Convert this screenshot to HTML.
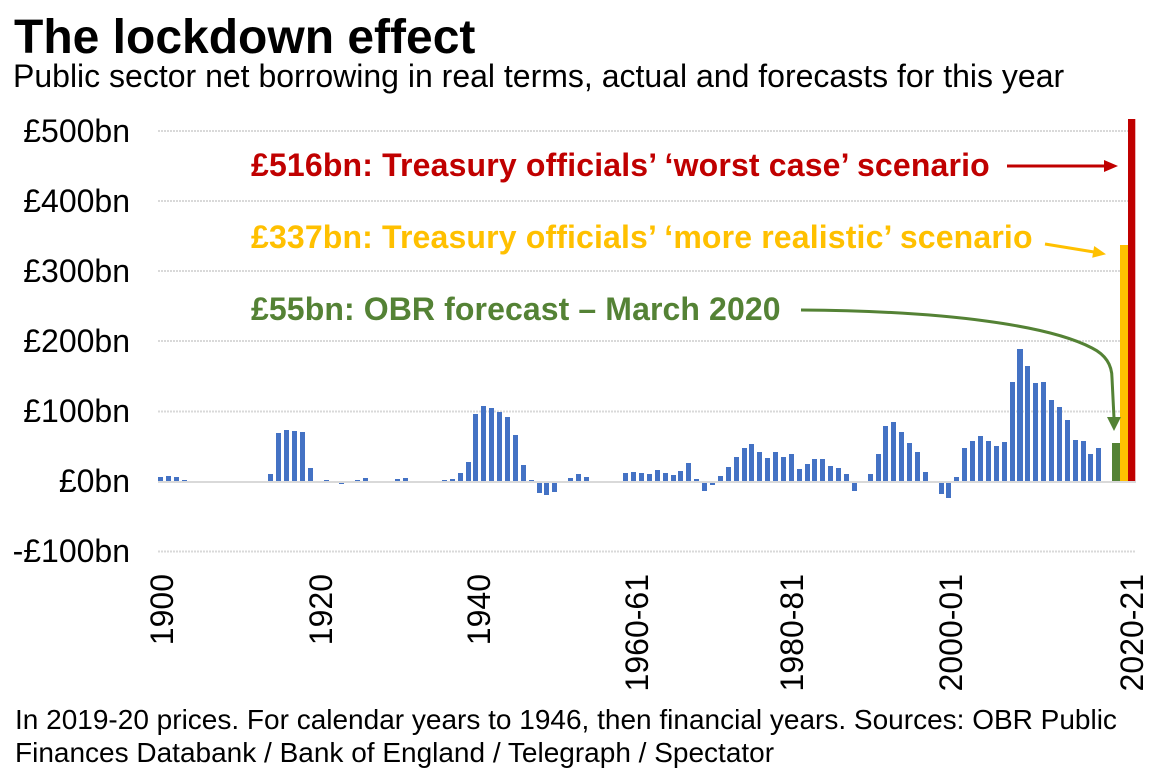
<!DOCTYPE html>
<html>
<head>
<meta charset="utf-8">
<style>
  html,body{margin:0;padding:0;background:#fff;}
  svg{display:block;}
  text{font-family:"Liberation Sans",Arial,sans-serif;}
</style>
</head>
<body>
<svg width="1170" height="772" viewBox="0 0 1170 772" xmlns="http://www.w3.org/2000/svg">
  <rect x="0" y="0" width="1170" height="772" fill="#fff"/>

  <!-- Title & subtitle -->
  <text x="14" y="53" font-size="48" font-weight="bold" fill="#000">The lockdown effect</text>
  <text x="13" y="87" font-size="32" fill="#000">Public sector net borrowing in real terms, actual and forecasts for this year</text>

  <!-- Gridlines -->
  <g stroke="#d9d9d9" stroke-width="2" stroke-dasharray="2 1">
    <line x1="158" y1="131" x2="1136" y2="131"/>
    <line x1="158" y1="201" x2="1136" y2="201"/>
    <line x1="158" y1="271" x2="1136" y2="271"/>
    <line x1="158" y1="341" x2="1136" y2="341"/>
    <line x1="158" y1="411.5" x2="1136" y2="411.5"/>
    <line x1="158" y1="551.5" x2="1136" y2="551.5"/>
  </g>

  <!-- Y axis labels -->
  <g font-size="32" fill="#000" text-anchor="end">
    <text x="130" y="142">£500bn</text>
    <text x="130" y="212">£400bn</text>
    <text x="130" y="282">£300bn</text>
    <text x="130" y="352">£200bn</text>
    <text x="130" y="422">£100bn</text>
    <text x="130" y="492">£0bn</text>
    <text x="130" y="562">-£100bn</text>
  </g>

  <!-- Blue bars -->
  <g fill="#4472C4">
    <rect x="158" y="477" width="5" height="4"/>
    <rect x="166" y="476" width="5" height="5"/>
    <rect x="174" y="477" width="5" height="4"/>
    <rect x="182" y="480" width="5" height="1"/>
    <rect x="268" y="474" width="5" height="7"/>
    <rect x="276" y="433" width="5" height="48"/>
    <rect x="284" y="430" width="5" height="51"/>
    <rect x="292" y="431" width="5" height="50"/>
    <rect x="300" y="432" width="5" height="49"/>
    <rect x="308" y="468" width="5" height="13"/>
    <rect x="324" y="480" width="5" height="1"/>
    <rect x="339" y="481" width="5" height="3"/>
    <rect x="355" y="480" width="5" height="1"/>
    <rect x="363" y="478" width="5" height="3"/>
    <rect x="395" y="479" width="5" height="2"/>
    <rect x="403" y="478" width="5" height="3"/>
    <rect x="442" y="480" width="5" height="1"/>
    <rect x="450" y="479" width="5" height="2"/>
    <rect x="458" y="473" width="5" height="8"/>
    <rect x="466" y="462" width="5" height="19"/>
    <rect x="473" y="414" width="5" height="67"/>
    <rect x="481" y="406" width="5" height="75"/>
    <rect x="489" y="408" width="5" height="73"/>
    <rect x="497" y="412" width="5" height="69"/>
    <rect x="505" y="417" width="5" height="64"/>
    <rect x="513" y="435" width="5" height="46"/>
    <rect x="521" y="465" width="5" height="16"/>
    <rect x="529" y="480" width="5" height="1"/>
    <rect x="537" y="481" width="5" height="12"/>
    <rect x="544" y="481" width="5" height="14"/>
    <rect x="552" y="481" width="5" height="11"/>
    <rect x="568" y="478" width="5" height="3"/>
    <rect x="576" y="474" width="5" height="7"/>
    <rect x="584" y="477" width="5" height="4"/>
    <rect x="623" y="473" width="5" height="8"/>
    <rect x="631" y="472" width="5" height="9"/>
    <rect x="639" y="473" width="5" height="8"/>
    <rect x="647" y="474" width="5" height="7"/>
    <rect x="655" y="470" width="5" height="11"/>
    <rect x="663" y="473" width="5" height="8"/>
    <rect x="671" y="475" width="5" height="6"/>
    <rect x="678" y="471" width="5" height="10"/>
    <rect x="686" y="463" width="5" height="18"/>
    <rect x="694" y="479" width="5" height="2"/>
    <rect x="702" y="481" width="5" height="10"/>
    <rect x="710" y="481" width="5" height="4"/>
    <rect x="718" y="476" width="5" height="5"/>
    <rect x="726" y="467" width="5" height="14"/>
    <rect x="734" y="457" width="5" height="24"/>
    <rect x="742" y="448" width="5" height="33"/>
    <rect x="749" y="444" width="5" height="37"/>
    <rect x="757" y="452" width="5" height="29"/>
    <rect x="765" y="458" width="5" height="23"/>
    <rect x="773" y="452" width="5" height="29"/>
    <rect x="781" y="457" width="5" height="24"/>
    <rect x="789" y="454" width="5" height="27"/>
    <rect x="797" y="469" width="5" height="12"/>
    <rect x="805" y="464" width="5" height="17"/>
    <rect x="812" y="459" width="5" height="22"/>
    <rect x="820" y="459" width="5" height="22"/>
    <rect x="828" y="466" width="5" height="15"/>
    <rect x="836" y="468" width="5" height="13"/>
    <rect x="844" y="474" width="5" height="7"/>
    <rect x="852" y="481" width="5" height="10"/>
    <rect x="868" y="474" width="5" height="7"/>
    <rect x="876" y="454" width="5" height="27"/>
    <rect x="883" y="426" width="5" height="55"/>
    <rect x="891" y="422" width="5" height="59"/>
    <rect x="899" y="432" width="5" height="49"/>
    <rect x="907" y="443" width="5" height="38"/>
    <rect x="915" y="452" width="5" height="29"/>
    <rect x="923" y="472" width="5" height="9"/>
    <rect x="939" y="481" width="5" height="13"/>
    <rect x="946" y="481" width="5" height="17"/>
    <rect x="954" y="477" width="5" height="4"/>
    <rect x="962" y="448" width="5" height="33"/>
    <rect x="970" y="441" width="5" height="40"/>
    <rect x="978" y="436" width="5" height="45"/>
    <rect x="986" y="441" width="5" height="40"/>
    <rect x="994" y="446" width="5" height="35"/>
    <rect x="1002" y="442" width="5" height="39"/>
    <rect x="1010" y="382" width="5" height="99"/>
    <rect x="1017" y="349" width="6" height="132"/>
    <rect x="1025" y="366" width="5" height="115"/>
    <rect x="1033" y="383" width="5" height="98"/>
    <rect x="1041" y="382" width="5" height="99"/>
    <rect x="1049" y="400" width="5" height="81"/>
    <rect x="1057" y="407" width="5" height="74"/>
    <rect x="1065" y="420" width="5" height="61"/>
    <rect x="1073" y="440" width="5" height="41"/>
    <rect x="1081" y="441" width="5" height="40"/>
    <rect x="1088" y="454" width="5" height="27"/>
    <rect x="1096" y="448" width="5" height="33"/>
  </g>

  <!-- Forecast bars -->
  <rect x="1112" y="443" width="8" height="38" fill="#548235"/>
  <rect x="1120" y="245" width="8" height="236" fill="#FFC000"/>
  <rect x="1128" y="119" width="7.3" height="362" fill="#C00000"/>

  <!-- Zero axis line -->
  <rect x="158" y="481" width="978" height="2" fill="#d9d9d9"/>

  <!-- X axis labels (rotated) -->
  <g font-size="32" fill="#000" text-anchor="end">
    <text transform="translate(173,574) rotate(-90)">1900</text>
    <text transform="translate(332,574) rotate(-90)">1920</text>
    <text transform="translate(490,574) rotate(-90)">1940</text>
    <text transform="translate(648,574) rotate(-90)">1960-61</text>
    <text transform="translate(803,574) rotate(-90)">1980-81</text>
    <text transform="translate(962,574) rotate(-90)">2000-01</text>
    <text transform="translate(1143,574) rotate(-90)">2020-21</text>
  </g>

  <!-- Annotations -->
  <text x="251" y="176" font-size="32" font-weight="bold" letter-spacing="0.16" fill="#C00000">£516bn: Treasury officials’ ‘worst case’ scenario</text>
  <text x="251" y="248" font-size="32" font-weight="bold" letter-spacing="0.15" fill="#FFC000">£337bn: Treasury officials’ ‘more realistic’ scenario</text>
  <text x="251" y="320" font-size="32" font-weight="bold" letter-spacing="0.1" fill="#548235">£55bn: OBR forecast – March 2020</text>

  <!-- Red arrow -->
  <line x1="1007" y1="166" x2="1106" y2="166" stroke="#C00000" stroke-width="3"/>
  <polygon points="1104,160 1118,166 1104,172" fill="#C00000"/>

  <!-- Yellow arrow -->
  <line x1="1045" y1="244" x2="1094" y2="252" stroke="#FFC000" stroke-width="3"/>
  <polygon points="1092.2,257.8 1106,254.2 1094.2,246" fill="#FFC000"/>

  <!-- Green curved arrow -->
  <path d="M801,310 C950,311 1050,326 1092,348 Q1112,358 1112,378 L1114,418" fill="none" stroke="#548235" stroke-width="3"/>
  <polygon points="1107,417 1121,417 1114,431" fill="#548235"/>

  <!-- Footer -->
  <text x="15" y="729" font-size="28" fill="#000">In 2019-20 prices. For calendar years to 1946, then financial years. Sources: OBR Public</text>
  <text x="15" y="762" font-size="28" fill="#000">Finances Databank / Bank of England / Telegraph / Spectator</text>
</svg>
</body>
</html>
